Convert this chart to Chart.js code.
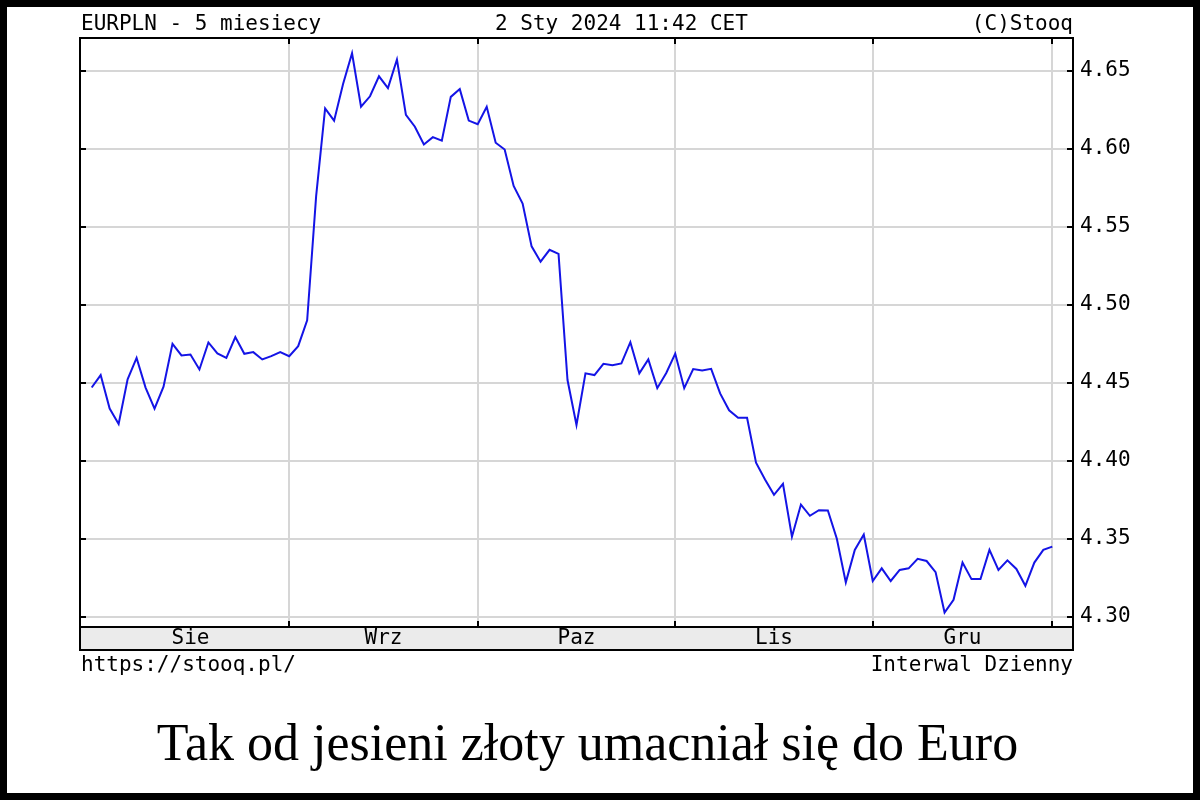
<!DOCTYPE html>
<html>
<head>
<meta charset="utf-8">
<script src="https://cdn.jsdelivr.net/npm/chart.js@4.4.1/dist/chart.umd.min.js"></script>
<style>
html,body{margin:0;padding:0;background:#fff;}
#wrap{position:relative;width:1200px;height:800px;overflow:hidden;background:#fff;}
#c{position:absolute;left:0;top:0;}
#frame{position:absolute;left:0;top:0;width:1200px;height:800px;box-sizing:border-box;border:7px solid #000;pointer-events:none;}
#caption{position:absolute;left:0;width:1175px;top:717px;text-align:center;font-family:'Liberation Serif','Times New Roman',serif;font-size:52px;line-height:52px;color:#000;white-space:nowrap;}
</style>
</head>
<body>
<div id="wrap">
  <canvas id="c" width="1200" height="800"></canvas>
  <div id="caption">Tak od jesieni złoty umacniał się do Euro</div>
  <div id="frame"></div>
</div>
<script>
// ---- data ----
const dates = [
  '2023-08-02','2023-08-03','2023-08-04','2023-08-07','2023-08-08','2023-08-09','2023-08-10','2023-08-11',
  '2023-08-14','2023-08-15','2023-08-16','2023-08-17','2023-08-18','2023-08-21','2023-08-22','2023-08-23',
  '2023-08-24','2023-08-25','2023-08-28','2023-08-29','2023-08-30','2023-08-31',
  '2023-09-01','2023-09-04','2023-09-05','2023-09-06','2023-09-07','2023-09-08','2023-09-11','2023-09-12',
  '2023-09-13','2023-09-14','2023-09-15','2023-09-18','2023-09-19','2023-09-20','2023-09-21','2023-09-22',
  '2023-09-25','2023-09-26','2023-09-27','2023-09-28','2023-09-29',
  '2023-10-02','2023-10-03','2023-10-04','2023-10-05','2023-10-06','2023-10-09','2023-10-10','2023-10-11',
  '2023-10-12','2023-10-13','2023-10-16','2023-10-17','2023-10-18','2023-10-19','2023-10-20','2023-10-23',
  '2023-10-24','2023-10-25','2023-10-26','2023-10-27','2023-10-30','2023-10-31',
  '2023-11-01','2023-11-02','2023-11-03','2023-11-06','2023-11-07','2023-11-08','2023-11-09','2023-11-10',
  '2023-11-13','2023-11-14','2023-11-15','2023-11-16','2023-11-17','2023-11-20','2023-11-21','2023-11-22',
  '2023-11-23','2023-11-24','2023-11-27','2023-11-28','2023-11-29','2023-11-30',
  '2023-12-01','2023-12-04','2023-12-05','2023-12-06','2023-12-07','2023-12-08','2023-12-11','2023-12-12',
  '2023-12-13','2023-12-14','2023-12-15','2023-12-18','2023-12-19','2023-12-20','2023-12-21','2023-12-22',
  '2023-12-26','2023-12-27','2023-12-28','2023-12-29',
  '2024-01-02'
];
const eurpln = [
  4.4469,4.4549,4.4334,4.4236,4.4522,4.4659,4.4469,4.4334,4.4475,4.4749,4.4675,4.4681,4.4585,4.4758,4.4688,4.4659,
  4.4793,4.4685,4.4696,4.4649,4.4670,4.4696,
  4.4670,4.4734,4.4900,4.5696,4.6258,4.6180,4.6415,4.6612,4.6269,4.6336,4.6464,4.6388,4.6572,4.6217,4.6141,4.6027,
  4.6074,4.6052,4.6332,4.6382,4.6180,
  4.6157,4.6269,4.6038,4.5995,4.5761,4.5648,4.5374,4.5276,4.5352,4.5326,4.4517,4.4229,4.4560,4.4549,4.4621,4.4612,
  4.4624,4.4760,4.4560,4.4649,4.4465,4.4562,
  4.4686,4.4465,4.4587,4.4579,4.4589,4.4431,4.4323,4.4275,4.4275,4.3987,4.3879,4.3781,4.3851,4.3513,4.3719,4.3647,
  4.3683,4.3681,4.3500,4.3220,4.3428,4.3527,
  4.3229,4.3310,4.3229,4.3300,4.3310,4.3371,4.3357,4.3286,4.3027,4.3108,4.3347,4.3241,4.3241,4.3428,4.3300,4.3361,
  4.3306,4.3198,4.3347,4.3428,
  4.3449
];
const yTicks = [4.30,4.35,4.40,4.45,4.50,4.55,4.60,4.65];
const monthLabels = ['Sie','Wrz','Paz','Lis','Gru'];
const headerLeft = 'EURPLN - 5 miesiecy';
const headerCenter = '2 Sty 2024 11:42 CET';
const headerRight = '(C)Stooq';
const footerLeft = 'https://stooq.pl/';
const footerRight = 'Interwal Dzienny';

// month starts derived from dates
const monthStarts = [0];
for (let i = 1; i < dates.length; i++) {
  if (dates[i].slice(0,7) !== dates[i-1].slice(0,7)) monthStarts.push(i);
}
const boundaries = monthStarts.slice(1);

const MONO = '21px "DejaVu Sans Mono", monospace';

const stooqFrame = {
  id: 'stooqFrame',
  afterDraw(chart) {
    const ctx = chart.ctx, a = chart.chartArea, xs = chart.scales.x, ys = chart.scales.y;
    const bandH = 23;
    ctx.save();
    ctx.fillStyle = '#ebebeb';
    ctx.fillRect(a.left, a.bottom, a.right - a.left, bandH);
    ctx.strokeStyle = '#000';
    ctx.lineWidth = 2;
    ctx.strokeRect(a.left, a.top, a.right - a.left, a.bottom - a.top);
    ctx.strokeRect(a.left, a.bottom, a.right - a.left, bandH);
    ctx.beginPath();
    boundaries.forEach(i => {
      const x = Math.round(xs.getPixelForValue(i));
      ctx.moveTo(x, a.top); ctx.lineTo(x, a.top + 6);
      ctx.moveTo(x, a.bottom); ctx.lineTo(x, a.bottom - 6);
    });
    yTicks.forEach(v => {
      const y = Math.round(ys.getPixelForValue(v));
      ctx.moveTo(a.left, y); ctx.lineTo(a.left + 6, y);
      ctx.moveTo(a.right, y); ctx.lineTo(a.right - 6, y);
    });
    ctx.stroke();
    ctx.fillStyle = '#000';
    ctx.font = MONO;
    ctx.textBaseline = 'alphabetic';
    ctx.textAlign = 'center';
    monthLabels.forEach((m, k) => {
      const mid = (monthStarts[k] + monthStarts[k + 1]) / 2;
      ctx.fillText(m, xs.getPixelForValue(mid), a.bottom + 17);
    });
    ctx.textAlign = 'left';
    ctx.fillText(headerLeft, a.left + 1, 29.5);
    ctx.fillText(headerCenter, 495, 29.5);
    ctx.fillText(footerLeft, a.left + 1, 671);
    ctx.textAlign = 'right';
    ctx.fillText(headerRight, a.right, 29.5);
    ctx.fillText(footerRight, a.right, 671);
    ctx.restore();
  }
};

new Chart(document.getElementById('c'), {
  type: 'line',
  data: {
    datasets: [{
      label: 'EURPLN',
      data: eurpln.map((v, i) => ({ x: i, y: v })),
      borderColor: '#1414e6',
      borderWidth: 2,
      pointRadius: 0,
      tension: 0,
      fill: false
    }]
  },
  options: {
    responsive: false,
    animation: false,
    devicePixelRatio: 1,
    layout: { padding: { left: 80, top: 38, right: 0, bottom: 173 } },
    plugins: { legend: { display: false }, tooltip: { enabled: false }, title: { display: false } },
    scales: {
      x: {
        type: 'linear',
        min: -1.303,
        max: 109.306,
        afterBuildTicks: s => { s.ticks = boundaries.map(v => ({ value: v })); },
        afterFit: s => { s.height = 0; },
        grid: { color: '#d6d6d6', lineWidth: 2, drawTicks: false },
        border: { display: false },
        ticks: { display: false }
      },
      y: {
        type: 'linear',
        position: 'right',
        min: 4.2934,
        max: 4.67096,
        afterBuildTicks: s => { s.ticks = yTicks.map(v => ({ value: v })); },
        afterFit: s => { s.width = 127; },
        grid: { color: '#d6d6d6', lineWidth: 2, drawTicks: false },
        border: { display: false },
        ticks: {
          padding: 7,
          color: '#000',
          font: { family: '"DejaVu Sans Mono", monospace', size: 21 },
          callback: v => Number(v).toFixed(2)
        }
      }
    }
  },
  plugins: [stooqFrame]
});
</script>
</body>
</html>
